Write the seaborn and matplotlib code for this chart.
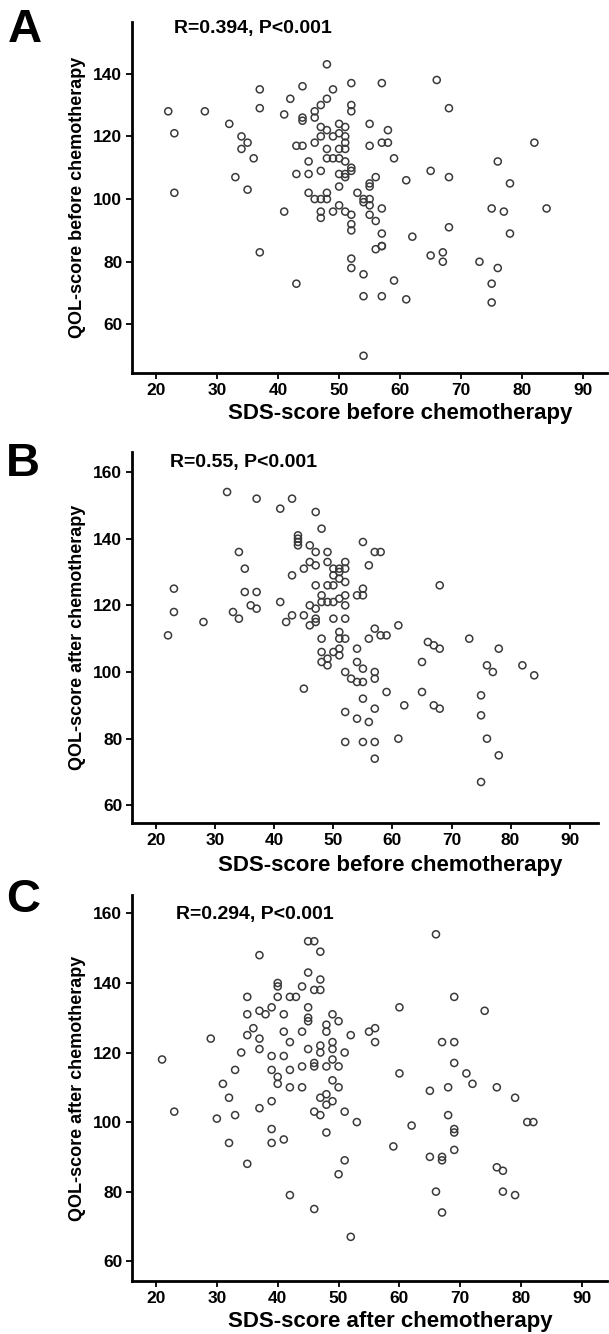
import numpy as np
import pandas as pd
import seaborn as sns
import matplotlib
matplotlib.use("Agg")
import matplotlib.pyplot as plt

# ---------------- data ----------------
a_sds = [22, 28, 23, 37, 37, 32, 34, 35, 34, 36, 33, 35, 23,
         42, 41, 44, 44, 44, 43, 44, 43, 45, 45, 47,
         48, 49, 48, 47, 46, 46, 47, 48, 47, 49, 46, 48, 48, 49, 50,
         50, 51, 50, 51, 51, 50, 51, 51, 52, 52, 52,
         52, 52, 51, 50, 51,
         50, 45, 46, 47, 48, 48, 53, 55, 55,
         57, 66, 68, 58, 57, 58, 59, 82, 76, 65, 68, 61, 78, 56, 55, 55, 54, 55, 54, 55,
         41, 47, 47, 49, 50, 51, 52, 52, 52, 55, 37, 52, 52, 54, 43, 54, 54,
         57, 56, 57, 57, 57, 56, 62, 68, 67, 65, 67, 75, 77, 84, 78, 73, 76, 75, 75, 59, 57, 61]
a_qol = [128, 128, 121, 135, 129, 124, 120, 118, 116, 113, 107, 103, 102,
         132, 127, 136, 126, 125, 117, 117, 108, 108, 112, 109,
         143, 135, 132, 130, 128, 126, 123, 122, 120, 120, 118, 116, 113, 113, 113,
         124, 123, 121, 120, 118, 116, 116, 112, 137, 130, 128,
         110, 109, 108, 108, 107,
         104, 102, 100, 100, 100, 102, 102, 124, 117,
         137, 138, 129, 122, 118, 118, 113, 118, 112, 109, 107, 106, 105, 107, 105, 104, 100, 100, 99, 98,
         96, 96, 94, 96, 98, 96, 95, 92, 90, 95, 83, 81, 78, 76, 73, 69, 50,
         97, 93, 89, 85, 85, 84, 88, 91, 83, 82, 80, 97, 96, 97, 89, 80, 78, 73, 67, 74, 69, 68]

b_sds = [32, 37, 43, 41, 47, 48, 44, 44, 44, 44, 46, 47, 49, 55, 56, 34, 35, 46, 47, 49, 52, 52, 45,
         50, 51, 50, 51, 51, 52,
         43, 47, 49, 50, 55, 54, 55, 48, 48, 49, 50, 51, 52, 52,
         23, 23, 28, 22, 35, 37, 36, 37, 33, 34, 41, 43, 42, 45, 46, 47, 47, 47, 46, 50, 52, 51, 52, 48, 56,
         57, 58, 68, 57, 58, 59, 61, 66, 73,
         51, 48, 50, 51, 51, 48, 49, 49, 52, 54, 54, 55, 53, 54, 55, 45, 55, 52, 54, 56, 52, 55,
         57, 57, 57, 57, 57, 59, 62, 61, 67, 68, 65, 65, 67, 68, 78, 76, 77, 82, 84, 75, 75, 76, 78, 75]
b_qol = [154, 152, 152, 149, 148, 143, 141, 140, 139, 138, 138, 136, 136, 139, 132, 136, 131, 133, 132, 133, 133, 131, 131,
         131, 131, 129, 130, 128, 127,
         129, 126, 126, 126, 125, 123, 123, 123, 121, 121, 121, 122, 123, 120,
         125, 118, 115, 111, 124, 124, 120, 119, 118, 116, 121, 117, 115, 117, 120, 119, 116, 115, 114, 116, 116, 112, 110, 110, 110,
         136, 136, 126, 113, 111, 111, 114, 109, 110,
         110, 106, 106, 107, 105, 103, 104, 102, 100, 107, 103, 101, 98, 97, 97, 95, 92, 88, 86, 85, 79, 79,
         100, 98, 89, 79, 74, 94, 90, 80, 108, 107, 103, 94, 90, 89, 107, 102, 100, 102, 99, 93, 87, 80, 75, 67]

c_sds = [45, 46, 47, 37, 45, 47, 40, 40, 44, 46, 47, 35, 40, 42, 43, 39, 37, 38, 35, 41, 45, 45, 45,
         49, 50, 48, 48, 44, 41, 36, 35, 37, 29, 52, 55, 56, 42, 37, 34, 39, 41, 45, 47, 47, 49, 49, 51,
         21, 33, 39, 40, 42, 44, 46, 46, 48, 49, 50, 49,
         66, 69, 60, 74, 56, 67, 69, 69, 60, 71,
         40, 50, 31, 32, 42, 44, 39, 47, 48, 48, 49, 46, 47, 51, 53, 48, 23, 30, 33, 37, 39, 39, 41, 32,
         35, 51, 50, 42, 46, 52,
         72, 65, 68, 76, 79, 62, 68, 69, 69, 81, 82, 59, 69, 65, 67, 67, 76, 77, 66, 77, 79, 67]
c_qol = [152, 152, 149, 148, 143, 141, 140, 139, 139, 138, 138, 136, 136, 136, 136, 133, 132, 131, 131, 131, 133, 130, 129,
         131, 129, 128, 126, 126, 126, 127, 125, 124, 124, 125, 126, 127, 123, 121, 120, 119, 119, 121, 122, 120, 123, 121, 120,
         118, 115, 115, 113, 115, 116, 117, 116, 116, 118, 116, 112,
         154, 136, 133, 132, 123, 123, 123, 117, 114, 114,
         111, 110, 111, 107, 110, 110, 106, 107, 108, 105, 106, 103, 102, 103, 100, 97, 103, 101, 102, 104, 98, 94, 95, 94,
         88, 89, 85, 79, 75, 67,
         111, 109, 110, 110, 107, 99, 102, 98, 97, 100, 100, 93, 92, 90, 90, 89, 87, 86, 80, 80, 79, 74]

panels = [
    dict(letter="A", x=a_sds, y=a_qol, stat="R=0.394, P<0.001",
         xlabel="SDS-score before chemotherapy", ylabel="QOL-score before chemotherapy",
         yticks=[60, 80, 100, 120, 140]),
    dict(letter="B", x=b_sds, y=b_qol, stat="R=0.55, P<0.001",
         xlabel="SDS-score before chemotherapy", ylabel="QOL-score after chemotherapy",
         yticks=[60, 80, 100, 120, 140, 160]),
    dict(letter="C", x=c_sds, y=c_qol, stat="R=0.294, P<0.001",
         xlabel="SDS-score after chemotherapy", ylabel="QOL-score after chemotherapy",
         yticks=[60, 80, 100, 120, 140, 160]),
]
xticks = [20, 30, 40, 50, 60, 70, 80, 90]

# ---------------- layout (pixels) ----------------
W, H = 609, 1334
boxes = [  # left, right, top, bottom in px
    (132, 607, 22, 373),
    (132, 598, 452, 823),
    (132, 607, 895, 1281),
]
limits = [
    ((16.06, 93.9), (44.5, 156.5)),
    ((15.9, 94.8), (54.7, 166.0)),
    ((16.06, 94.1), (54.3, 165.3)),
]
stat_pos = [(174, 28), (170, 463), (176, 915)]
letter_pos = [(8, 30), (6, 464), (6, 900)]
ylab_x = 77
xlab = [(400, 414), (390, 866), (390, 1322)]

sns.set_theme(style="white")
plt.rcParams['font.family'] = ['Liberation Sans', 'DejaVu Sans']
plt.rcParams['text.color'] = 'black'
plt.rcParams['xtick.color'] = 'black'
plt.rcParams['ytick.color'] = 'black'
plt.rcParams['xtick.labelcolor'] = 'black'
plt.rcParams['ytick.labelcolor'] = 'black'

fig = plt.figure(figsize=(W / 100, H / 100), dpi=100)
fig.patch.set_facecolor("white")

for p, (l, r, t, b), (xl, yl), sp, lp, xlp in zip(panels, boxes, limits, stat_pos, letter_pos, xlab):
    ax = fig.add_axes([l / W, 1 - b / H, (r - l) / W, (b - t) / H])
    df = pd.DataFrame({"sds": p["x"], "qol": p["y"]})
    sns.scatterplot(data=df, x="sds", y="qol", ax=ax, marker="o", s=26,
                    facecolors="none", edgecolor="#3a3a3a", linewidth=1.1)
    ax.set_xlim(*xl)
    ax.set_ylim(*yl)
    ax.set_xticks(xticks)
    ax.set_yticks(p["yticks"])
    ax.set_xlabel("")
    ax.set_ylabel("")
    for s in ["top", "right"]:
        ax.spines[s].set_visible(False)
    for s in ["left", "bottom"]:
        ax.spines[s].set_color("black")
        ax.spines[s].set_linewidth(2.0)
    ax.tick_params(axis="both", which="major", direction="out", length=4,
                   width=1.3, color="black", labelcolor="black", labelsize=12.5, pad=3,
                   bottom=True, left=True)
    for lab in ax.get_xticklabels() + ax.get_yticklabels():
        lab.set_fontweight("bold")
    ax.set_facecolor("white")
    ax.grid(False)
    # texts
    fig.text(sp[0] / W, 1 - sp[1] / H, p["stat"], fontsize=14, fontweight="bold",
             ha="left", va="center", color="black")
    fig.text(lp[0] / W, 1 - lp[1] / H, p["letter"], fontsize=34, fontweight="bold",
             ha="left", va="center", color="black")
    fig.text(ylab_x / W, 1 - ((t + b) / 2) / H, p["ylabel"], fontsize=13, fontweight="bold",
             rotation=90, ha="center", va="center", color="black")
    fig.text(xlp[0] / W, 1 - xlp[1] / H, p["xlabel"], fontsize=16, fontweight="bold",
             ha="center", va="center", color="black")

fig.savefig("out.png", dpi=100, facecolor="white")
